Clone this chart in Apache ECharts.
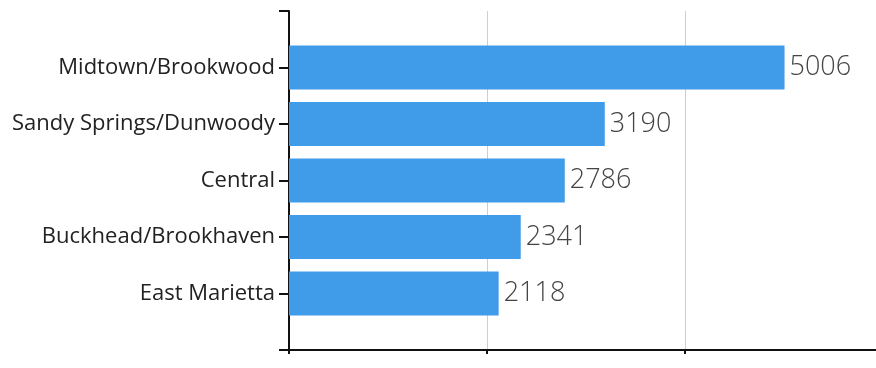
<!DOCTYPE html>
<html>
<head>
<meta charset="utf-8">
<script src="https://cdn.jsdelivr.net/npm/echarts@6/dist/echarts.min.js"></script>
<style>
  html, body { margin: 0; padding: 0; background: #fff; }
  #chart { width: 876px; height: 368px; }
</style>
</head>
<body>
<div id="chart"></div>
<script>
// Submarkets, top to bottom
const categories = [
  'Midtown/Brookwood',
  'Sandy Springs/Dunwoody',
  'Central',
  'Buckhead/Brookhaven',
  'East Marietta'
];
const values = [5006, 3190, 2786, 2341, 2118];
const xTicks = [0, 2000, 4000];

// Empty slots above and below the bars keep a half-step margin at both ends of the axis
const axisCategories = [''].concat(categories, ['']);
const seriesData = ['-'].concat(values, ['-']);

const chart = echarts.init(document.getElementById('chart'), null, { renderer: 'canvas' });

chart.setOption({
  animation: false,
  backgroundColor: '#ffffff',
  grid: { left: 289, right: 0, top: 11, bottom: 18, containLabel: false },
  xAxis: {
    type: 'value',
    min: 0,
    max: 5930,
    interval: 2000,
    axisLine: { show: true, lineStyle: { color: '#111', width: 2 } },
    axisTick: { show: true, length: 4, customValues: xTicks, lineStyle: { color: '#111', width: 2 } },
    axisLabel: { show: false },
    splitLine: { show: true, lineStyle: { color: '#cfcfcf', width: 1 } }
  },
  yAxis: {
    type: 'category',
    inverse: true,
    boundaryGap: false,
    data: axisCategories,
    axisLine: { show: true, lineStyle: { color: '#111', width: 2 } },
    axisTick: { show: true, length: 10, alignWithLabel: true, lineStyle: { color: '#111', width: 2 } },
    axisLabel: {
      margin: 14,
      interval: 0,
      fontFamily: 'Open Sans',
      fontSize: 22,
      color: '#222'
    },
    splitLine: { show: false }
  },
  series: [{
    type: 'bar',
    data: seriesData,
    barWidth: 44,
    itemStyle: { color: '#409ce8' },
    label: {
      show: true,
      position: 'right',
      distance: 5,
      fontFamily: 'Open Sans',
      fontSize: 27,
      fontWeight: 300,
      color: '#444'
    }
  }]
});
</script>
</body>
</html>
